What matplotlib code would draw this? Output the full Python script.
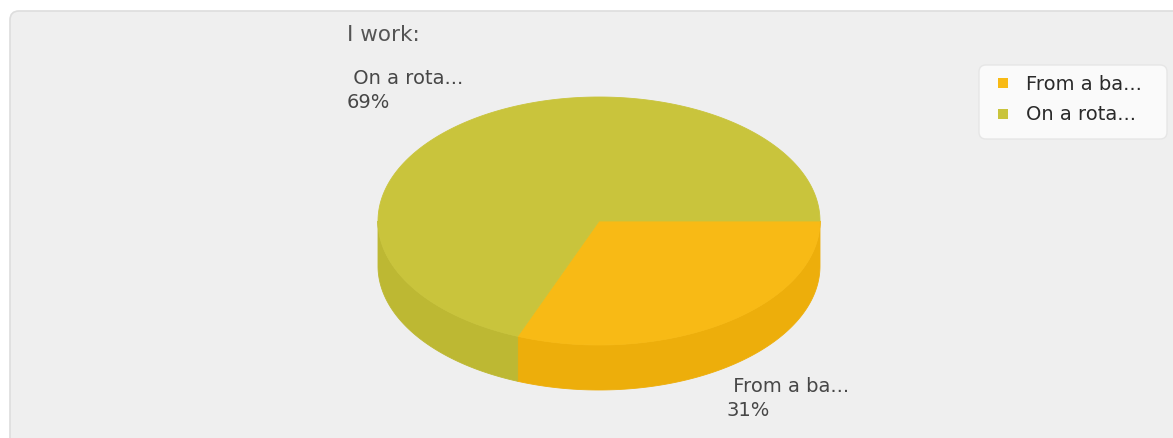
import numpy as np
import matplotlib
matplotlib.use("Agg")
import matplotlib.pyplot as plt
from matplotlib.patches import Polygon, FancyBboxPatch, Rectangle

# Chart data
title = "I work:"
labels = ["From a ba...", "On a rota..."]
values = [31, 69]
top_colors = ["#F8BA15", "#C9C43C"]
side_colors = ["#EDAE0B", "#BDB833"]

W, H = 1173, 439
fig = plt.figure(figsize=(W / 100, H / 100), dpi=100)
fig.patch.set_facecolor("white")
ax = fig.add_axes([0, 0, 1, 1])
ax.set_xlim(0, W)
ax.set_ylim(H, 0)
ax.axis("off")

# Rounded chart panel
ax.add_patch(FancyBboxPatch((10, 12), 1185, 460, boxstyle="round,pad=0,rounding_size=9",
                            facecolor="#EFEFEF", edgecolor="#DDDDDD", lw=1.2, zorder=0))

# 3D pie geometry (screen pixels)
cx, cy = 599, 222
a, b = 221, 124
depth = 45


def ellipse(theta_deg, dy=0.0):
    t = np.radians(theta_deg)
    return np.column_stack([cx + a * np.cos(t), cy - b * np.sin(t) + dy])


total = float(sum(values))
# slices run clockwise starting at 0 degrees (3 o'clock)
starts, ends = [], []
ang = 0.0
for v in values:
    sweep = 360.0 * v / total
    starts.append(ang - sweep)
    ends.append(ang)
    ang -= sweep

# Side walls: only the front half (angles in (-180, 0)) is visible
for s, e, sc in zip(starts, ends, side_colors):
    segs = []
    for off in (0.0, 360.0):
        lo, hi = max(s + off, -180.0), min(e + off, 0.0)
        if lo < hi:
            segs.append((lo, hi))
    for l, h in segs:
        t = np.linspace(l, h, 120)
        top = ellipse(t)
        bot = ellipse(t[::-1], depth)
        ax.add_patch(Polygon(np.vstack([top, bot]), closed=True, facecolor=sc,
                             edgecolor=sc, lw=0.6, zorder=2))

# Top faces
for s, e, tc in zip(starts, ends, top_colors):
    t = np.linspace(s, e, 200)
    pts = np.vstack([[cx, cy], ellipse(t)])
    ax.add_patch(Polygon(pts, closed=True, facecolor=tc, edgecolor=tc, lw=0.6, zorder=3))

# Slice labels
txt_color = "#474747"
font = ["DejaVu Sans Condensed", "DejaVu Sans"]
for s, e, lab, v in zip(starts, ends, labels, values):
    m = np.radians((s + e) / 2)
    x = cx + 1.03 * a * np.cos(m) + (0 if np.cos(m) >= 0 else -8)
    y = cy - 1.28 * b * np.sin(m) + (depth if np.sin(m) < 0 else 0)
    ha = "left" if np.cos(m) >= 0 else "right"
    pct = f"{100 * v / total:.0f}%"
    ax.text(x, y, f" {lab}\n{pct}", ha=ha, va="center", multialignment="left",
            fontsize=14, color=txt_color, family=font, linespacing=1.3, zorder=5)

# Title
ax.text(347, 35, title, ha="left", va="center", fontsize=15.5, color="#555555",
        family=font, zorder=5)

# Legend
ax.add_patch(FancyBboxPatch((979, 66), 188, 74, boxstyle="round,pad=0,rounding_size=7",
                            facecolor="#FAFAFA", edgecolor="#E6E6E6", lw=1.0, zorder=4))
for i, (lab, tc) in enumerate(zip(labels, top_colors)):
    yy = 84 + i * 31
    ax.add_patch(Rectangle((998, yy - 5), 10, 10, facecolor=tc, edgecolor="none", zorder=5))
    ax.text(1026, yy, lab, ha="left", va="center", fontsize=14, color="#2A2A2A",
            family=font, zorder=5)

fig.savefig("out.png", dpi=100, facecolor=fig.get_facecolor())
